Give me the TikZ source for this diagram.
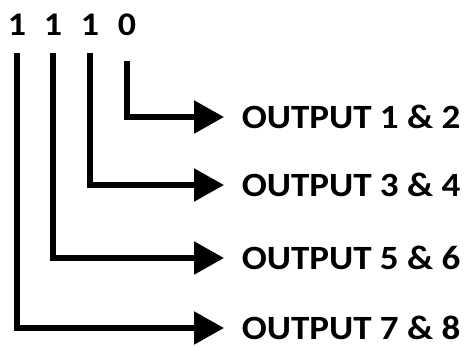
\documentclass[tikz,border=0pt]{standalone}
\usepackage{fontspec}
\setmainfont[FakeStretch=1.09]{Carlito}
\usetikzlibrary{positioning}
\usetikzlibrary{arrows.meta}

\begin{document}
\begin{tikzpicture}[->,>={Triangle[length=30pt,width=32pt]},line width=5.5pt,
		x=1pt,y=-1pt]
		\tikzstyle{bit}=[font=\bfseries\fontsize{33}{33}\selectfont,inner sep=0pt]
		\tikzstyle{output}=[font=\bfseries\fontsize{34}{34}\selectfont,anchor=west,
		inner sep=0pt,inner xsep=15pt]
		\useasboundingbox (0,0) rectangle (464,347);
		
		\node[bit] (b3) at (17,25) {1};
		\node[bit] (b2) at (53,25) {1};
		\node[bit] (b1) at (90,25) {1};
		\node[bit] (b0) at (127,25) {0};
		
		\node[output] (o12) at (224,117) {OUTPUT 1 \& 2};
		\node[output] (o34) at (224,185) {OUTPUT 3 \& 4};
		\node[output] (o56) at (224,258) {OUTPUT 5 \& 6};
		\node[output] (o78) at (224,328) {OUTPUT 7 \& 8};
		
		\draw[shorten <=22pt] (b0) |- (o12);
		\draw[shorten <=15pt] (b1) |- (o34);
		\draw[shorten <=15pt] (b2) |- (o56);
		\draw[shorten <=15pt] (b3) |- (o78);
		\end{tikzpicture}
\end{document}
